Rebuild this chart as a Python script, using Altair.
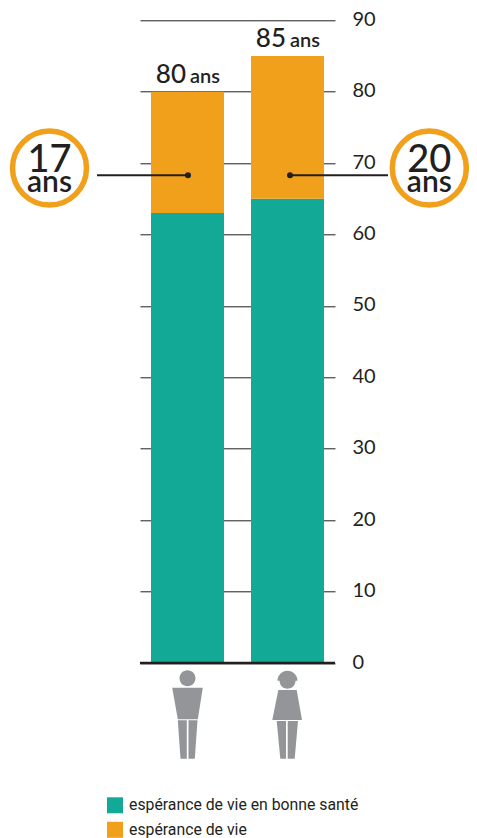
import altair as alt
import pandas as pd

sexes = ["homme", "femme"]
healthy = [63, 65]
total = [80, 85]
gap = [17, 20]
leader_value = 68.3
ticks = [0, 10, 20, 30, 40, 50, 60, 70, 80, 90]
series = ["espérance de vie en bonne santé", "espérance de vie"]
colors = ["#13A997", "#F0A01B"]
INK = "#231F20"
GREY = "#939598"
FONT = "Lato"

bars = pd.DataFrame(
    [{"sex": s, "series": series[0], "start": 0, "end": h} for s, h in zip(sexes, healthy)]
    + [{"sex": s, "series": series[1], "start": h, "end": t} for s, h, t in zip(sexes, healthy, total)]
)
totals = pd.DataFrame({"sex": sexes, "total": total, "ans": ["ans", "ans"]})
totals["label"] = totals["total"].astype(str)
one = pd.DataFrame({"v": [leader_value]})

x_enc = alt.X("sex:N", sort=sexes, axis=None,
              scale=alt.Scale(domain=sexes, paddingInner=0.27, paddingOuter=0.11))
y_scale = alt.Scale(domain=[0, 90], nice=False)

bar = alt.Chart(bars).mark_bar().encode(
    x=x_enc,
    y=alt.Y("start:Q", scale=y_scale, title=None,
            axis=alt.Axis(orient="right", values=ticks, domain=False, ticks=False, grid=True,
                          gridColor=INK, gridWidth=1, labelPadding=17, labelFont=FONT,
                          labelFontSize=20, labelColor=INK, labelAlign="left", labelOffset=-1)),
    y2="end:Q",
    color=alt.Color("series:N", sort=series,
                    scale=alt.Scale(domain=series, range=colors),
                    legend=alt.Legend(orient="none", legendX=-33, legendY=777, title=None,
                                      symbolType="square", symbolSize=256, symbolStrokeWidth=0,
                                      symbolOpacity=1, labelFont="Roboto", labelFontSize=15.8,
                                      labelLimit=300,
                                      labelColor=INK, rowPadding=8.5, labelOffset=6)),
)

zero = alt.Chart(one).mark_rule(color=INK, strokeWidth=2.5).encode(y=alt.datum(0, scale=y_scale))

num = alt.Chart(totals).mark_text(font=FONT, fontSize=26, fontWeight=500, color=INK, align="right",
                                  baseline="alphabetic", xOffset=-1.5, yOffset=-9).encode(
    x=x_enc, y=alt.Y("total:Q", scale=y_scale), text="label:N")
ans = alt.Chart(totals).mark_text(font=FONT, fontSize=20, fontWeight=600, color=INK, align="left",
                                  baseline="alphabetic", xOffset=2.5, yOffset=-9).encode(
    x=x_enc, y=alt.Y("total:Q", scale=y_scale), text="ans:N")

def leader(x1, x2):
    return alt.Chart(one).mark_rule(color=INK, strokeWidth=2).encode(
        x=alt.value(x1), x2=alt.value(x2), y=alt.Y("v:Q", scale=y_scale))

def dot(x):
    return alt.Chart(one).mark_point(filled=True, color=INK, size=36, opacity=1).encode(
        x=alt.value(x), y=alt.Y("v:Q", scale=y_scale))

def badge(x, n):
    ring = alt.Chart(one).mark_point(filled=False, size=5476, stroke="#F0A01B", strokeWidth=5.5,
                                     fill="white", opacity=1).encode(
        x=alt.value(x), y=alt.value(147.7))
    big = alt.Chart(pd.DataFrame({"t": [str(n)]})).mark_text(
        font=FONT, fontSize=38, fontWeight=500, color=INK, align="center", baseline="alphabetic").encode(
        x=alt.value(x), y=alt.value(151.7), text="t:N")
    small = alt.Chart(pd.DataFrame({"t": ["ans"]})).mark_text(
        font=FONT, fontSize=30, fontWeight=600, color=INK, align="center", baseline="alphabetic").encode(
        x=alt.value(x), y=alt.value(171.7), text="t:N")
    return ring + big + small

MAN = ("M0,-46.7A8,8 0 1 1 0,-30.7A8,8 0 1 1 0,-46.7Z"
       "M-15.3,-29.3L15.3,-29.3L10.3,2.3L-9.7,2.3Z"
       "M-9.7,3.3L-0.7,3.3L-0.7,41.7L-7,41.7Z"
       "M1,3.3L10,3.3L7.3,41.7L1,41.7Z")
WOMAN = ("M-10,-36.3A10,10 0 0 1 10,-36.3L8,-36.3A8,8 0 0 1 -8,-36.3Z"
         "M0,-45A8,8 0 1 1 0,-29A8,8 0 1 1 0,-45Z"
         "M-9.2,-27L9.2,-27L14.5,3L-15.2,3Z"
         "M-10.8,4L-1.5,4L-1.5,41.7L-7.2,41.7Z"
         "M0.2,4L10.5,4L7.2,41.7L0.2,41.7Z")

def icon(sex, path):
    return alt.Chart(pd.DataFrame({"sex": [sex]})).mark_point(
        shape=path, size=4, filled=True, color=GREY, opacity=1, strokeWidth=0).encode(
        x=x_enc, y=alt.value(696.7))

chart = alt.layer(
    bar, zero, num, ans,
    leader(-43, 48), leader(150, 248), dot(48), dot(150),
    badge(-90.5, gap[0]), badge(289.3, gap[1]),
    icon(sexes[0], MAN), icon(sexes[1], WOMAN),
).resolve_scale(y="shared").properties(
    width=195, height=642.7,
    padding={"left": 132, "top": 12.3, "right": 134, "bottom": 175},
    autosize=alt.AutoSizeParams(type="none"),
).configure_view(stroke=None)

chart.save("out.html", embed_options={"renderer": "svg", "actions": False})
